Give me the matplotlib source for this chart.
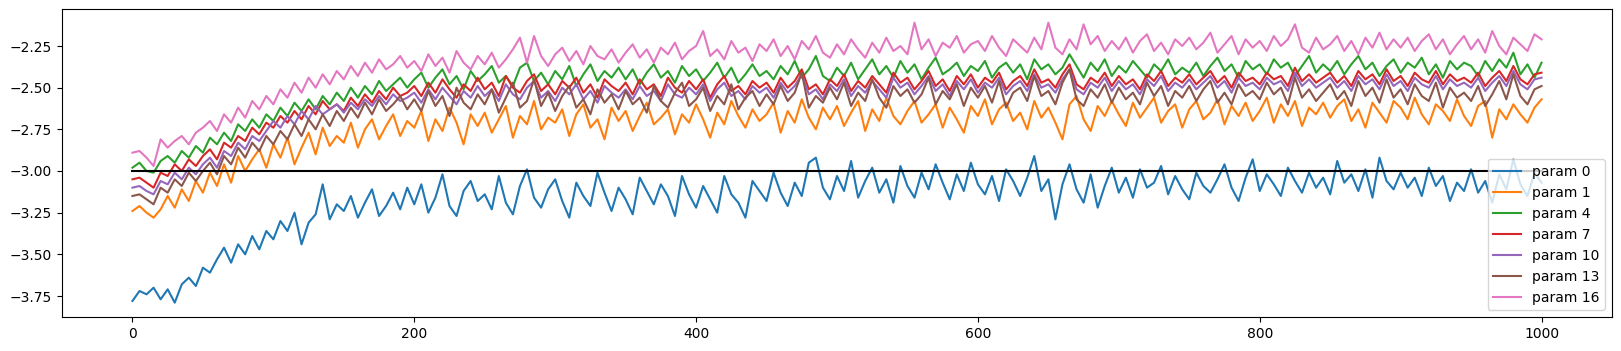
import numpy as np
import matplotlib
matplotlib.use("Agg")
import matplotlib.pyplot as plt

# update-to-data ratio (log10), one value every 5 steps, steps 0..1000
steps = np.arange(0, 1001, 5)

param_0 = [
    -3.78, -3.72, -3.74, -3.70, -3.77, -3.71, -3.79, -3.68, -3.64, -3.69,
    -3.58, -3.61, -3.53, -3.46, -3.55, -3.44, -3.50, -3.39, -3.47, -3.36,
    -3.41, -3.30, -3.36, -3.25, -3.44, -3.31, -3.26, -3.08, -3.29, -3.20,
    -3.24, -3.15, -3.28, -3.19, -3.11, -3.27, -3.21, -3.13, -3.23, -3.10,
    -3.20, -3.08, -3.25, -3.16, -3.02, -3.21, -3.27, -3.12, -3.06, -3.18,
    -3.14, -3.23, -3.03, -3.19, -3.26, -3.09, -2.99, -3.16, -3.22, -3.11,
    -3.05, -3.18, -3.28, -3.07, -3.15, -3.21, -3.01, -3.13, -3.24, -3.10,
    -3.17, -3.26, -3.04, -3.12, -3.20, -3.08, -3.15, -3.27, -3.03, -3.14,
    -3.22, -3.09, -3.17, -3.25, -3.03, -3.14, -3.19, -3.28, -3.06, -3.12,
    -3.18, -3.01, -3.13, -3.21, -3.07, -3.15, -2.95, -2.92, -3.10, -3.17,
    -3.03, -3.12, -2.94, -3.16, -3.06, -2.98, -3.13, -3.05, -3.19, -2.97,
    -3.09, -3.16, -3.01, -3.11, -2.96, -3.07, -3.17, -3.02, -3.12, -2.95,
    -3.08, -3.14, -3.03, -3.18, -2.99, -3.06, -3.15, -3.04, -2.91, -3.12,
    -3.05, -3.29, -3.08, -2.96, -3.11, -3.19, -3.02, -3.22, -3.09, -2.98,
    -3.13, -3.04, -3.16, -2.99, -3.10, -3.07, -2.97, -3.14, -3.03, -3.11,
    -3.17, -3.01, -3.09, -3.13, -3.05, -2.96, -3.10, -3.18, -3.04, -2.93,
    -3.12, -3.02, -3.08, -3.15, -2.98, -3.06, -3.13, -3.01, -3.10, -3.04,
    -3.14, -2.94, -3.07, -3.02, -3.12, -2.99, -3.16, -2.92, -3.06, -3.11,
    -3.01, -3.10, -3.04, -3.15, -2.98, -3.09, -3.03, -3.18, -3.07, -3.12,
    -2.99, -3.13, -3.06, -3.19, -3.02, -3.11, -2.93, -3.08, -3.15, -3.01,
    -3.07,
]

param_1 = [
    -3.24, -3.21, -3.25, -3.28, -3.23, -3.15, -3.22, -3.11, -3.18, -3.06,
    -3.13, -3.01, -3.09, -2.96, -3.07, -2.91, -3.00, -2.93, -2.87, -2.98,
    -2.84, -2.92, -2.80, -2.96, -2.86, -2.77, -2.90, -2.74, -2.85, -2.79,
    -2.83, -2.71, -2.86, -2.75, -2.69, -2.81, -2.73, -2.66, -2.79, -2.70,
    -2.74, -2.64, -2.82, -2.69, -2.76, -2.62, -2.71, -2.84, -2.66, -2.73,
    -2.65, -2.77, -2.69, -2.61, -2.80, -2.67, -2.72, -2.58, -2.75, -2.68,
    -2.71, -2.63, -2.79, -2.66, -2.60, -2.74, -2.69, -2.81, -2.62, -2.70,
    -2.64, -2.76, -2.67, -2.59, -2.72, -2.68, -2.63, -2.78, -2.66, -2.71,
    -2.60, -2.69, -2.80, -2.65, -2.72, -2.58, -2.67, -2.74, -2.63, -2.70,
    -2.66, -2.59, -2.77, -2.64, -2.71, -2.57, -2.68, -2.75, -2.62, -2.69,
    -2.61, -2.73, -2.65, -2.58, -2.76, -2.63, -2.70, -2.56, -2.67, -2.72,
    -2.64, -2.58, -2.71, -2.66, -2.60, -2.74, -2.62, -2.69, -2.77, -2.61,
    -2.67, -2.57, -2.72, -2.63, -2.59, -2.70, -2.65, -2.75, -2.58, -2.68,
    -2.62, -2.71, -2.81, -2.60, -2.55, -2.69, -2.76, -2.61, -2.67, -2.58,
    -2.66, -2.73, -2.59, -2.68, -2.62, -2.56, -2.71, -2.64, -2.60, -2.74,
    -2.63, -2.58, -2.69, -2.65, -2.57, -2.72, -2.61, -2.67, -2.59, -2.70,
    -2.64, -2.56, -2.71, -2.60, -2.67, -2.58, -2.73, -2.62, -2.66, -2.59,
    -2.68, -2.61, -2.57, -2.70, -2.63, -2.74, -2.59, -2.65, -2.71, -2.58,
    -2.62, -2.69, -2.56, -2.66, -2.72, -2.60, -2.64, -2.70, -2.57, -2.67,
    -2.73, -2.61, -2.58, -2.80, -2.63, -2.69, -2.60, -2.66, -2.71, -2.62,
    -2.57,
]

param_4 = [
    -2.98, -2.95, -3.00, -3.01, -2.94, -2.91, -2.95, -2.88, -2.92, -2.85,
    -2.89, -2.80, -2.84, -2.77, -2.82, -2.72, -2.76, -2.69, -2.74, -2.66,
    -2.70, -2.62, -2.67, -2.59, -2.64, -2.57, -2.63, -2.55, -2.60, -2.53,
    -2.58, -2.50, -2.56, -2.49, -2.54, -2.46, -2.52, -2.48, -2.44, -2.50,
    -2.45, -2.41, -2.50, -2.44, -2.39, -2.48, -2.43, -2.51, -2.40, -2.46,
    -2.42, -2.37, -2.47, -2.43, -2.49, -2.38, -2.35, -2.46, -2.41, -2.48,
    -2.40, -2.45, -2.37, -2.49, -2.42, -2.36, -2.46, -2.40, -2.44, -2.38,
    -2.45, -2.39, -2.48, -2.41, -2.36, -2.44, -2.40, -2.47, -2.37, -2.43,
    -2.39, -2.46, -2.41, -2.35, -2.44, -2.38, -2.47, -2.42, -2.36, -2.43,
    -2.40, -2.45, -2.37, -2.42, -2.34, -2.44, -2.39, -2.31, -2.43, -2.46,
    -2.38, -2.43, -2.35, -2.45, -2.39, -2.33, -2.42, -2.37, -2.44, -2.34,
    -2.41, -2.36, -2.45, -2.38, -2.32, -2.42, -2.39, -2.35, -2.43, -2.37,
    -2.40, -2.34, -2.44, -2.38, -2.35, -2.41, -2.36, -2.45, -2.33, -2.39,
    -2.36, -2.42, -2.38, -2.30, -2.37, -2.44, -2.35, -2.40, -2.33, -2.43,
    -2.37, -2.41, -2.34, -2.39, -2.44, -2.36, -2.40, -2.33, -2.42, -2.38,
    -2.41, -2.35, -2.43, -2.37, -2.32, -2.40, -2.36, -2.44, -2.34, -2.39,
    -2.36, -2.42, -2.33, -2.38, -2.35, -2.43, -2.37, -2.31, -2.41, -2.36,
    -2.40, -2.34, -2.42, -2.36, -2.31, -2.39, -2.35, -2.43, -2.37, -2.33,
    -2.41, -2.35, -2.38, -2.32, -2.42, -2.36, -2.44, -2.34, -2.39, -2.35,
    -2.37, -2.43, -2.34, -2.40, -2.33, -2.38, -2.29, -2.42, -2.36, -2.44,
    -2.35,
]

param_7 = [
    -3.05, -3.04, -3.07, -3.10, -3.01, -3.03, -2.96, -3.00, -2.93, -2.97,
    -2.91, -2.87, -2.93, -2.83, -2.86, -2.79, -2.82, -2.74, -2.78, -2.71,
    -2.74, -2.67, -2.71, -2.64, -2.69, -2.61, -2.66, -2.58, -2.63, -2.60,
    -2.64, -2.56, -2.61, -2.54, -2.59, -2.52, -2.57, -2.50, -2.55, -2.53,
    -2.49, -2.55, -2.47, -2.53, -2.45, -2.51, -2.56, -2.48, -2.52, -2.44,
    -2.51, -2.47, -2.55, -2.43, -2.50, -2.53, -2.46, -2.42, -2.52, -2.48,
    -2.54, -2.46, -2.50, -2.44, -2.53, -2.48, -2.56, -2.45, -2.49, -2.52,
    -2.47, -2.54, -2.45, -2.51, -2.48, -2.55, -2.44, -2.50, -2.53, -2.46,
    -2.51, -2.45, -2.56, -2.48, -2.43, -2.52, -2.49, -2.54, -2.46, -2.50,
    -2.47, -2.53, -2.44, -2.50, -2.46, -2.39, -2.51, -2.48, -2.54, -2.45,
    -2.49, -2.42, -2.52, -2.46, -2.50, -2.43, -2.48, -2.53, -2.41, -2.47,
    -2.44, -2.51, -2.46, -2.40, -2.49, -2.45, -2.52, -2.43, -2.48, -2.42,
    -2.50, -2.44, -2.47, -2.41, -2.51, -2.46, -2.43, -2.49, -2.39, -2.47,
    -2.45, -2.50, -2.42, -2.36, -2.48, -2.51, -2.44, -2.47, -2.41, -2.49,
    -2.43, -2.48, -2.45, -2.51, -2.42, -2.46, -2.40, -2.49, -2.44, -2.47,
    -2.42, -2.48, -2.44, -2.40, -2.47, -2.43, -2.50, -2.41, -2.46, -2.44,
    -2.48, -2.41, -2.45, -2.43, -2.49, -2.38, -2.46, -2.42, -2.47, -2.44,
    -2.41, -2.47, -2.43, -2.49, -2.40, -2.45, -2.42, -2.48, -2.39, -2.46,
    -2.43, -2.49, -2.41, -2.45, -2.47, -2.40, -2.48, -2.42, -2.46, -2.44,
    -2.47, -2.41, -2.49, -2.44, -2.40, -2.46, -2.37, -2.45, -2.48, -2.42,
    -2.41,
]

param_10 = [
    -3.10, -3.09, -3.12, -3.14, -3.06, -3.08, -3.01, -3.05, -2.98, -3.02,
    -2.96, -2.92, -2.98, -2.88, -2.91, -2.83, -2.87, -2.79, -2.82, -2.76,
    -2.70, -2.74, -2.67, -2.72, -2.64, -2.69, -2.61, -2.66, -2.63, -2.60,
    -2.65, -2.59, -2.63, -2.57, -2.61, -2.55, -2.60, -2.54, -2.58, -2.56,
    -2.53, -2.59, -2.51, -2.57, -2.50, -2.55, -2.60, -2.52, -2.56, -2.49,
    -2.55, -2.51, -2.58, -2.48, -2.54, -2.57, -2.50, -2.46, -2.56, -2.52,
    -2.58, -2.50, -2.54, -2.48, -2.57, -2.52, -2.59, -2.49, -2.53, -2.56,
    -2.51, -2.57, -2.49, -2.55, -2.52, -2.58, -2.48, -2.54, -2.56, -2.50,
    -2.54, -2.48, -2.58, -2.51, -2.47, -2.55, -2.52, -2.57, -2.49, -2.53,
    -2.50, -2.56, -2.47, -2.53, -2.49, -2.42, -2.54, -2.51, -2.57, -2.48,
    -2.52, -2.45, -2.55, -2.49, -2.53, -2.46, -2.51, -2.56, -2.44, -2.50,
    -2.47, -2.54, -2.49, -2.43, -2.52, -2.48, -2.55, -2.46, -2.51, -2.45,
    -2.53, -2.47, -2.50, -2.44, -2.54, -2.49, -2.46, -2.52, -2.42, -2.50,
    -2.48, -2.53, -2.45, -2.39, -2.51, -2.54, -2.47, -2.50, -2.44, -2.52,
    -2.46, -2.51, -2.48, -2.54, -2.45, -2.49, -2.43, -2.52, -2.47, -2.50,
    -2.45, -2.51, -2.47, -2.43, -2.50, -2.46, -2.53, -2.44, -2.49, -2.47,
    -2.51, -2.44, -2.48, -2.46, -2.52, -2.41, -2.49, -2.45, -2.50, -2.47,
    -2.44, -2.50, -2.46, -2.52, -2.43, -2.48, -2.45, -2.51, -2.42, -2.49,
    -2.46, -2.52, -2.44, -2.48, -2.50, -2.43, -2.51, -2.45, -2.49, -2.47,
    -2.50, -2.44, -2.52, -2.47, -2.43, -2.49, -2.40, -2.48, -2.51, -2.45,
    -2.44,
]

param_13 = [
    -3.15, -3.14, -3.17, -3.20, -3.10, -3.13, -3.05, -3.09, -3.01, -3.06,
    -3.00, -2.95, -3.02, -2.91, -2.96, -2.86, -2.92, -2.83, -2.88, -2.79,
    -2.84, -2.76, -2.81, -2.72, -2.79, -2.69, -2.75, -2.66, -2.73, -2.64,
    -2.70, -2.62, -2.68, -2.59, -2.66, -2.57, -2.64, -2.60, -2.55, -2.63,
    -2.57, -2.64, -2.52, -2.61, -2.55, -2.67, -2.50, -2.59, -2.63, -2.54,
    -2.60, -2.51, -2.65, -2.56, -2.47, -2.62, -2.58, -2.45, -2.61, -2.53,
    -2.64, -2.55, -2.49, -2.62, -2.57, -2.66, -2.51, -2.59, -2.54, -2.63,
    -2.52, -2.60, -2.56, -2.65, -2.49, -2.58, -2.62, -2.53, -2.47, -2.61,
    -2.57, -2.50, -2.64, -2.55, -2.60, -2.48, -2.63, -2.56, -2.52, -2.61,
    -2.54, -2.60, -2.49, -2.58, -2.53, -2.41, -2.62, -2.55, -2.59, -2.50,
    -2.57, -2.47, -2.61, -2.53, -2.58, -2.45, -2.56, -2.62, -2.49, -2.55,
    -2.51, -2.59, -2.54, -2.44, -2.60, -2.52, -2.57, -2.48, -2.61, -2.50,
    -2.56, -2.49, -2.59, -2.46, -2.62, -2.53, -2.50, -2.58, -2.43, -2.55,
    -2.52, -2.60, -2.47, -2.39, -2.57, -2.61, -2.51, -2.56, -2.48, -2.59,
    -2.50, -2.57, -2.53, -2.60, -2.47, -2.55, -2.49, -2.61, -2.52, -2.56,
    -2.49, -2.58, -2.51, -2.46, -2.59, -2.53, -2.60, -2.48, -2.55, -2.52,
    -2.57, -2.47, -2.54, -2.50, -2.60, -2.44, -2.56, -2.51, -2.58, -2.53,
    -2.48, -2.57, -2.52, -2.61, -2.46, -2.55, -2.50, -2.59, -2.45, -2.56,
    -2.51, -2.60, -2.48, -2.55, -2.58, -2.47, -2.62, -2.50, -2.56, -2.53,
    -2.58, -2.49, -2.61, -2.54, -2.46, -2.57, -2.42, -2.55, -2.60, -2.51,
    -2.49,
]

param_16 = [
    -2.89, -2.88, -2.92, -2.97, -2.81, -2.86, -2.82, -2.79, -2.84, -2.77,
    -2.74, -2.70, -2.76, -2.66, -2.71, -2.62, -2.68, -2.58, -2.63, -2.55,
    -2.60, -2.51, -2.56, -2.47, -2.53, -2.44, -2.50, -2.42, -2.48, -2.40,
    -2.45, -2.37, -2.43, -2.35, -2.41, -2.33, -2.39, -2.36, -2.31, -2.38,
    -2.34, -2.40, -2.30, -2.37, -2.32, -2.41, -2.28, -2.35, -2.39, -2.31,
    -2.36, -2.29, -2.38, -2.33, -2.27, -2.20, -2.35, -2.19, -2.31, -2.37,
    -2.30, -2.26, -2.34, -2.28, -2.36, -2.25, -2.31, -2.33, -2.27, -2.35,
    -2.29, -2.24, -2.32, -2.27, -2.35, -2.26, -2.30, -2.23, -2.33, -2.28,
    -2.25, -2.16, -2.31, -2.27, -2.33, -2.22, -2.29, -2.26, -2.34, -2.24,
    -2.28, -2.21, -2.31, -2.25, -2.33, -2.22, -2.27, -2.19, -2.29, -2.32,
    -2.24, -2.30, -2.21, -2.27, -2.32, -2.23, -2.29, -2.20, -2.28, -2.25,
    -2.30, -2.11, -2.27, -2.21, -2.31, -2.23, -2.26, -2.19, -2.29, -2.24,
    -2.22, -2.28, -2.19, -2.26, -2.31, -2.21, -2.25, -2.29, -2.20, -2.27,
    -2.11, -2.26, -2.30, -2.21, -2.27, -2.12, -2.24, -2.19, -2.28, -2.22,
    -2.27, -2.20, -2.29, -2.22, -2.18, -2.28, -2.23, -2.30, -2.21, -2.25,
    -2.20, -2.27, -2.23, -2.17, -2.29, -2.24, -2.19, -2.30, -2.21, -2.26,
    -2.22, -2.28, -2.19, -2.25, -2.21, -2.12, -2.26, -2.29, -2.20, -2.27,
    -2.24, -2.19, -2.28, -2.22, -2.30, -2.20, -2.26, -2.17, -2.27, -2.21,
    -2.26, -2.20, -2.28, -2.22, -2.18, -2.27, -2.21, -2.30, -2.24, -2.19,
    -2.27, -2.21, -2.29, -2.16, -2.25, -2.30, -2.20, -2.24, -2.28, -2.18,
    -2.21,
]

series = [param_0, param_1, param_4, param_7, param_10, param_13, param_16]
legends = ["param 0", "param 1", "param 4", "param 7",
           "param 10", "param 13", "param 16"]

fig = plt.figure(figsize=(16.21, 3.51), dpi=100)
ax = fig.add_axes([62 / 1621, 1 - 317 / 351, 1550 / 1621, 308 / 351])

for ys in series:
    ax.plot(steps, ys)
ax.plot([0, 1000], [-3, -3], "k")

ax.set_xlim(-50, 1050)
ax.set_ylim(-3.876, -2.028)
ax.legend(legends, loc="lower right")

fig.savefig("out.png", dpi=100)
